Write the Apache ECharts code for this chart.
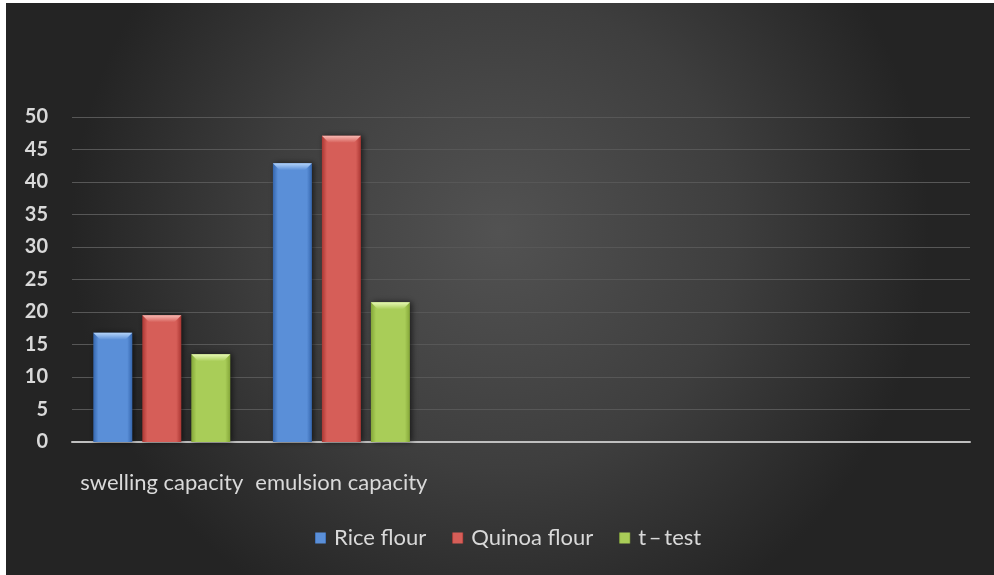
<!DOCTYPE html>
<html>
<head>
<meta charset="utf-8">
<script src="https://cdn.jsdelivr.net/npm/echarts@6/dist/echarts.min.js"></script>
<style>
  html, body { margin: 0; padding: 0; background: #ffffff; }
  #chart { position: absolute; left: 6px; top: 3px; width: 988px; height: 572px; }
</style>
</head>
<body>
<div id="chart"></div>
<script>
// Category axis: two measured properties plus empty slots on the right
const categories = ['swelling capacity', 'emulsion capacity', '', '', ''];
const seriesNames = ['Rice flour', 'Quinoa flour', 't\u2009\u2013\u2009test'];
const riceFlour = [16.8, 42.9, null, null, null];
const quinoaFlour = [19.5, 47.1, null, null, null];
const tTest = [13.5, 21.5, null, null, null];
const yTicks = { min: 0, max: 50, interval: 5 };

const palette = [
  { edge: '#3566ad', mid: '#5a8fd8', top: '#b4d4fa' },
  { edge: '#ab3733', mid: '#d65e58', top: '#f7b8b2' },
  { edge: '#84a638', mid: '#a9cd58', top: '#e6f8b4' }
];

const BAR_W = 39;
const BAR_STEP = 49;   // bar width plus gap between neighbouring bars
const BEVEL = 7;

function barFill(p) {
  return new echarts.graphic.LinearGradient(0, 0, 1, 0, [
    { offset: 0, color: p.edge },
    { offset: 0.13, color: p.mid },
    { offset: 0.87, color: p.mid },
    { offset: 1, color: p.edge }
  ]);
}

const allData = [riceFlour, quinoaFlour, tTest];

// Bevelled cap drawn on top of each bar
function bevelSeries(i) {
  const p = palette[i];
  const pts = [];
  allData[i].forEach((v, k) => { if (v != null) pts.push([k, v]); });
  return {
    type: 'custom',
    name: seriesNames[i],
    data: pts,
    z: 5,
    silent: true,
    encode: { x: 0, y: 1 },
    renderItem: function (params, api) {
      const top = api.coord([api.value(0), api.value(1)]);
      const cx = top[0] + (i - 1) * BAR_STEP;
      const l = cx - BAR_W / 2, r = cx + BAR_W / 2, y = top[1];
      return {
        type: 'polygon',
        shape: { points: [[l, y], [r, y], [r - BEVEL, y + BEVEL], [l + BEVEL, y + BEVEL]] },
        style: {
          fill: new echarts.graphic.LinearGradient(0, 0, 0, 1, [
            { offset: 0, color: p.top },
            { offset: 1, color: p.mid }
          ])
        }
      };
    }
  };
}

const chart = echarts.init(document.getElementById('chart'));
chart.setOption({
  color: palette.map(p => p.mid),
  backgroundColor: new echarts.graphic.RadialGradient(0.5, 0.4, 0.75, [
    { offset: 0, color: '#525252' },
    { offset: 0.55, color: '#3e3e3e' },
    { offset: 1, color: '#242424' }
  ]),
  animation: false,
  textStyle: { fontFamily: 'Lato, "Open Sans", sans-serif' },
  grid: { left: 66, right: 24, top: 114, bottom: 133 },
  legend: {
    bottom: 21,
    left: 304,
    itemWidth: 11,
    itemHeight: 11,
    itemGap: 26,
    icon: 'rect',
    textStyle: { color: '#d9d9d9', fontSize: 22, fontFamily: 'Lato, sans-serif', padding: [0, 0, 0, 3] },
    data: seriesNames
  },
  xAxis: {
    type: 'category',
    data: categories,
    axisLine: { lineStyle: { color: '#bfbfbf', width: 2 } },
    axisTick: { show: false },
    axisLabel: { color: '#d9d9d9', fontSize: 22, margin: 30, interval: 0 }
  },
  yAxis: {
    type: 'value',
    min: yTicks.min,
    max: yTicks.max,
    interval: yTicks.interval,
    axisLine: { show: false },
    axisTick: { show: false },
    axisLabel: { color: '#d9d9d9', fontSize: 20, fontWeight: 'bold', margin: 24 },
    splitLine: { lineStyle: { color: '#575757', width: 1 } }
  },
  series: seriesNames.map((name, i) => ({
    name: name,
    type: 'bar',
    data: allData[i],
    barWidth: BAR_W,
    barGap: ((BAR_STEP - BAR_W) / BAR_W * 100) + '%',
    itemStyle: {
      color: barFill(palette[i]),
      shadowColor: 'rgba(0,0,0,0.6)',
      shadowBlur: 6,
      shadowOffsetX: 2,
      shadowOffsetY: 0
    }
  })).concat(seriesNames.map((name, i) => bevelSeries(i)))
});
</script>
</body>
</html>
